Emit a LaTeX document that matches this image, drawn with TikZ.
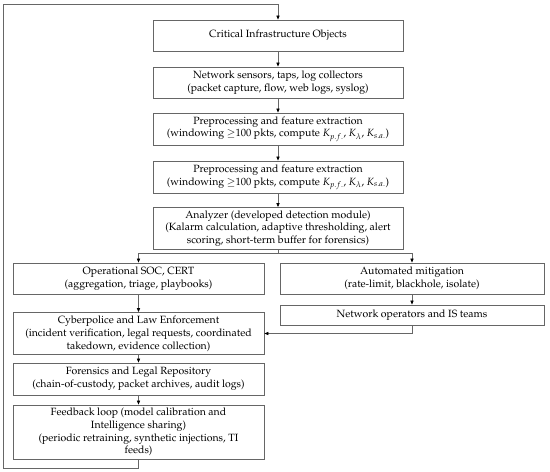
\documentclass[tikz,border=0pt]{standalone}
\usepackage[T1]{fontenc}
\usepackage{mathpazo}
\usetikzlibrary{arrows.meta}
\begin{document}
\begin{tikzpicture}[x=1pt,y=1pt,
  box/.style={draw=black!60, line width=0.8pt, align=center, inner sep=0pt,
    font=\fontsize{10.5}{12.8}\selectfont},
  conn/.style={draw=black!60, line width=0.7pt},
  arr/.style={conn, -{Triangle[length=4pt,width=3.2pt,color=black]}}]
\useasboundingbox (0,0) rectangle (550,-472);
% top column
\node[box, minimum width=250pt, minimum height=31pt] (crit) at (278,-35.5) {Critical Infrastructure Objects};
\node[box, minimum width=250pt, minimum height=31pt] (sens) at (278,-82.5) {Network sensors, taps, log collectors\\(packet capture, flow, web logs, syslog)};
\node[box, minimum width=250pt, minimum height=32pt] (pre1) at (278,-129) {Preprocessing and feature extraction\\(windowing $\geq$100 pkts, compute $K_{p.f.}$, $K_{\lambda}$, $K_{s.a.}$)};
\node[box, minimum width=250pt, minimum height=32pt] (pre2) at (278,-177) {Preprocessing and feature extraction\\(windowing $\geq$100 pkts, compute $K_{p.f.}$, $K_{\lambda}$, $K_{s.a.}$)};
\node[box, minimum width=250pt, minimum height=42pt] (anal) at (278,-228.5) {Analyzer (developed detection module)\\(Kalarm calculation, adaptive thresholding, alert\\scoring, short-term buffer for forensics)};
% left column
\node[box, minimum width=251pt, minimum height=31pt] (soc) at (138.5,-278.5) {Operational SOC, CERT\\(aggregation, triage, playbooks)};
\node[box, minimum width=251pt, minimum height=42pt] (cyber) at (138.5,-333.5) {Cyberpolice and Law Enforcement\\(incident verification, legal requests, coordinated\\takedown, evidence collection)};
\node[box, minimum width=251pt, minimum height=32pt] (foren) at (138.5,-379) {Forensics and Legal Repository\\(chain-of-custody, packet archives, audit logs)};
\node[box, minimum width=251pt, minimum height=54pt] (feed) at (138.5,-432) {Feedback loop (model calibration and\\Intelligence sharing)\\(periodic retraining, synthetic injections, TI\\feeds)};
% right column
\node[box, minimum width=264pt, minimum height=31pt] (auto) at (412,-278.5) {Automated mitigation\\(rate-limit, blackhole, isolate)};
\node[box, minimum width=264pt, minimum height=20pt] (netops) at (412,-315) {Network operators and IS teams};
% coordinates
\coordinate (split) at (278,-253);
\coordinate (loopbl) at (3.5,-468);
\coordinate (looptl) at (3.5,-4);
% connectors
\draw[arr] (crit) -- (sens);
\draw[arr] (sens) -- (pre1);
\draw[arr] (pre1) -- (pre2);
\draw[arr] (pre2) -- (anal);
\draw[conn] (anal.south) -- (split);
\draw[arr] (split) -| (soc.north);
\draw[arr] (split) -| (auto.north);
\draw[arr] (soc) -- (cyber);
\draw[arr] (auto) -- (netops);
\draw[arr] (netops.south) |- (cyber.east);
\draw[arr] (cyber) -- (foren);
\draw[arr] (foren) -- (feed);
\draw[arr] (feed.south) |- (loopbl) -- (looptl) -| (crit.north);
\end{tikzpicture}
\end{document}
